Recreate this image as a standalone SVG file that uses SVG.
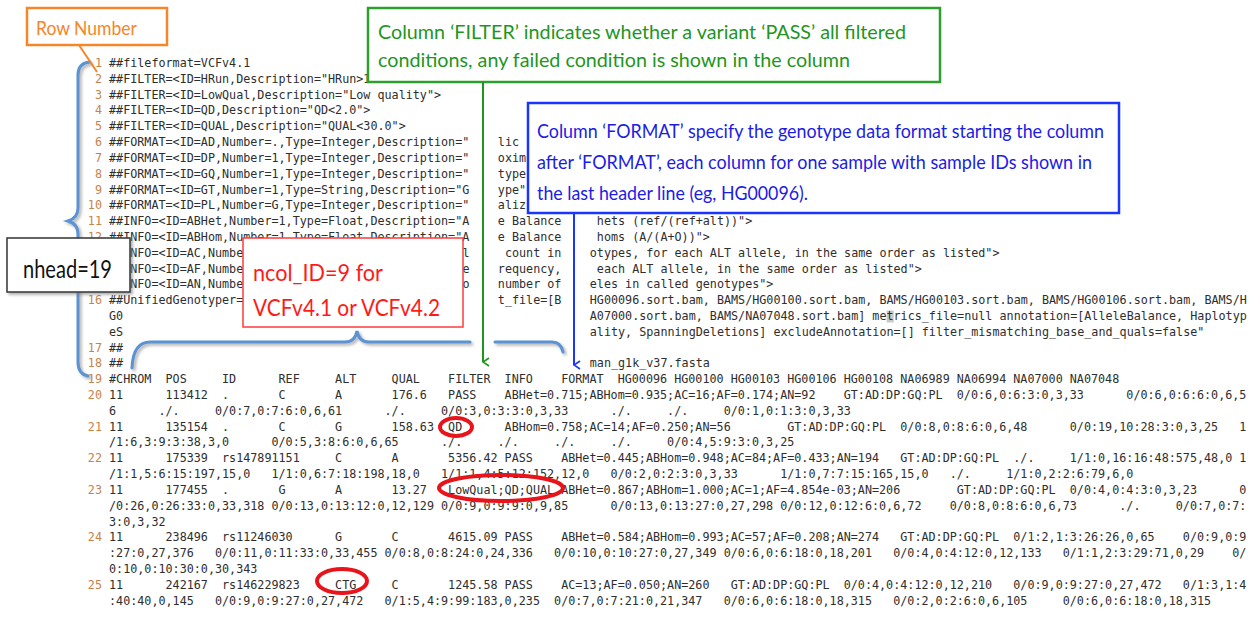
<svg xmlns="http://www.w3.org/2000/svg" width="1256" height="618" viewBox="0 0 1256 618">
<style>
.c{font-family:"DejaVu Sans Mono","Liberation Mono",monospace;font-size:11.74px;fill:#2e2e2e;white-space:pre}
.n{font-family:"DejaVu Sans Mono","Liberation Mono",monospace;font-size:11.74px;fill:#c8834a;text-anchor:end}
.lbl{font-family:Lato,"Liberation Sans",sans-serif}
.brace{fill:none;stroke:#5b93d3;stroke-width:3;stroke-linecap:round}
.ring{fill:none;stroke:#e8141c;stroke-width:4}
</style>
<defs>
<filter id="sh" x="-10%" y="-10%" width="130%" height="140%"><feDropShadow dx="2" dy="2" stdDeviation="1.5" flood-color="#777" flood-opacity="0.6"/></filter>
<marker id="ag" viewBox="0 0 10 10" refX="5" refY="9" markerWidth="10" markerHeight="10" markerUnits="userSpaceOnUse" orient="auto-start-reverse"><path d="M1,3 L5,9 L9,3" fill="none" stroke="#1e961e" stroke-width="1.6"/></marker>
<marker id="ab" viewBox="0 0 10 10" refX="5" refY="9" markerWidth="10" markerHeight="10" markerUnits="userSpaceOnUse" orient="auto-start-reverse"><path d="M1,3 L5,9 L9,3" fill="none" stroke="#1a35ff" stroke-width="1.6"/></marker>
</defs>
<rect width="1256" height="618" fill="#fff"/>

<g id="code">
<g id="linenumbers">
<text class="n" x="102" y="67">1</text>
<text class="n" x="102" y="82.8">2</text>
<text class="n" x="102" y="98.6">3</text>
<text class="n" x="102" y="114.4">4</text>
<text class="n" x="102" y="130.2">5</text>
<text class="n" x="102" y="146.1">6</text>
<text class="n" x="102" y="161.9">7</text>
<text class="n" x="102" y="177.7">8</text>
<text class="n" x="102" y="193.5">9</text>
<text class="n" x="102" y="209.3">10</text>
<text class="n" x="102" y="225.1">11</text>
<text class="n" x="102" y="240.9">12</text>
<text class="n" x="102" y="304.2">16</text>
<text class="n" x="102" y="351.6">17</text>
<text class="n" x="102" y="367.4">18</text>
<text class="n" x="102" y="383.2">19</text>
<text class="n" x="102" y="399">20</text>
<text class="n" x="102" y="430.6">21</text>
<text class="n" x="102" y="462.3">22</text>
<text class="n" x="102" y="493.9">23</text>
<text class="n" x="102" y="541.3">24</text>
<text class="n" x="102" y="588.7">25</text>
</g>
<g id="header">
<text class="c" x="109" y="67">##fileformat=VCFv4.1</text>
<text class="c" x="109" y="82.8">##FILTER=&lt;ID=HRun,Description="HRun&gt;1</text>
<text class="c" x="109" y="98.6">##FILTER=&lt;ID=LowQual,Description="Low quality"&gt;</text>
<text class="c" x="109" y="114.4">##FILTER=&lt;ID=QD,Description="QD&lt;2.0"&gt;</text>
<text class="c" x="109" y="130.2">##FILTER=&lt;ID=QUAL,Description="QUAL&lt;30.0"&gt;</text>
<text class="c" x="109" y="146.1">##FORMAT=&lt;ID=AD,Number=.,Type=Integer,Description="</text>
<text class="c" x="497.85" y="146.1">lic</text>
<text class="c" x="109" y="161.9">##FORMAT=&lt;ID=DP,Number=1,Type=Integer,Description="</text>
<text class="c" x="497.85" y="161.9">oxim</text>
<text class="c" x="109" y="177.7">##FORMAT=&lt;ID=GQ,Number=1,Type=Integer,Description="</text>
<text class="c" x="497.85" y="177.7">type</text>
<text class="c" x="109" y="193.5">##FORMAT=&lt;ID=GT,Number=1,Type=String,Description="G</text>
<text class="c" x="497.85" y="193.5">ype"</text>
<text class="c" x="109" y="209.3">##FORMAT=&lt;ID=PL,Number=G,Type=Integer,Description="</text>
<text class="c" x="497.85" y="209.3">aliz</text>
<text class="c" x="109" y="225.1">##INFO=&lt;ID=ABHet,Number=1,Type=Float,Description="A</text>
<text class="c" x="497.85" y="225.1">e Balance</text>
<text class="c" x="596.83" y="225.1">hets (ref/(ref+alt))"&gt;</text>
<text class="c" x="109" y="240.9">##INFO=&lt;ID=ABHom,Number=1,Type=Float,Description="A</text>
<text class="c" x="497.85" y="240.9">e Balance</text>
<text class="c" x="596.83" y="240.9">homs (A/(A+O))"&gt;</text>
<text class="c" x="130.2" y="256.7">NFO=&lt;ID=AC,Numbe</text>
<text class="c" x="462.5" y="256.7">l</text>
<text class="c" x="504.92" y="256.7">count in</text>
<text class="c" x="589.76" y="256.7">otypes, for each ALT allele, in the same order as listed"&gt;</text>
<text class="c" x="130.2" y="272.5">NFO=&lt;ID=AF,Numbe</text>
<text class="c" x="462.5" y="272.5">e</text>
<text class="c" x="497.85" y="272.5">requency,</text>
<text class="c" x="596.83" y="272.5">each ALT allele, in the same order as listed"&gt;</text>
<text class="c" x="130.2" y="288.3">NFO=&lt;ID=AN,Numbe</text>
<text class="c" x="462.5" y="288.3">o</text>
<text class="c" x="497.85" y="288.3">number of</text>
<text class="c" x="589.76" y="288.3">eles in called genotypes"&gt;</text>
<text class="c" x="109" y="304.2">##UnifiedGenotyper=</text>
<text class="c" x="497.85" y="304.2">t_file=[B</text>
<text class="c" x="589.76" y="304.2">HG00096.sort.bam, BAMS/HG00100.sort.bam, BAMS/HG00103.sort.bam, BAMS/HG00106.sort.bam, BAMS/H</text>
<text class="c" x="109" y="320">G0</text>
<rect x="886.7" y="310.5" width="7" height="12" fill="#c8c8c8"/>
<text class="c" x="589.76" y="320">A07000.sort.bam, BAMS/NA07048.sort.bam] metrics_file=null annotation=[AlleleBalance, Haplotyp</text>
<text class="c" x="109" y="335.8">eS</text>
<text class="c" x="589.76" y="335.8">ality, SpanningDeletions] excludeAnnotation=[] filter_mismatching_base_and_quals=false"</text>
<text class="c" x="109" y="351.6">##</text>
<text class="c" x="109" y="367.4">##</text>
<text class="c" x="589.76" y="367.4">man_g1k_v37.fasta</text>
</g>
<g id="records">
<text class="c" xml:space="preserve" x="109" y="383.2">#CHROM  POS     ID      REF     ALT     QUAL    FILTER  INFO    FORMAT  HG00096 HG00100 HG00103 HG00106 HG00108 NA06989 NA06994 NA07000 NA07048</text>
<text class="c" xml:space="preserve" x="109" y="399">11      113412  .       C       A       176.6   PASS    ABHet=0.715;ABHom=0.935;AC=16;AF=0.174;AN=92    GT:AD:DP:GQ:PL  0/0:6,0:6:3:0,3,33      0/0:6,0:6:6:0,6,5</text>
<text class="c" xml:space="preserve" x="109" y="414.8">6      ./.     0/0:7,0:7:6:0,6,61      ./.     0/0:3,0:3:3:0,3,33      ./.     ./.     0/0:1,0:1:3:0,3,33</text>
<text class="c" xml:space="preserve" x="109" y="430.6">11      135154  .       C       G       158.63  QD      ABHom=0.758;AC=14;AF=0.250;AN=56        GT:AD:DP:GQ:PL  0/0:8,0:8:6:0,6,48      0/0:19,10:28:3:0,3,25   1</text>
<text class="c" xml:space="preserve" x="109" y="446.4">/1:6,3:9:3:38,3,0      0/0:5,3:8:6:0,6,65      ./.     ./.     ./.     ./.     0/0:4,5:9:3:0,3,25</text>
<text class="c" xml:space="preserve" x="109" y="462.3">11      175339  rs147891151     C       A       5356.42 PASS    ABHet=0.445;ABHom=0.948;AC=84;AF=0.433;AN=194   GT:AD:DP:GQ:PL  ./.     1/1:0,16:16:48:575,48,0 1</text>
<text class="c" xml:space="preserve" x="109" y="478.1">/1:1,5:6:15:197,15,0   1/1:0,6:7:18:198,18,0   1/1:1,4:5:12:152,12,0   0/0:2,0:2:3:0,3,33      1/1:0,7:7:15:165,15,0   ./.     1/1:0,2:2:6:79,6,0</text>
<text class="c" xml:space="preserve" x="109" y="493.9">11      177455  .       G       A       13.27   LowQual;QD;QUAL ABHet=0.867;ABHom=1.000;AC=1;AF=4.854e-03;AN=206        GT:AD:DP:GQ:PL  0/0:4,0:4:3:0,3,23      0</text>
<text class="c" xml:space="preserve" x="109" y="509.7">/0:26,0:26:33:0,33,318 0/0:13,0:13:12:0,12,129 0/0:9,0:9:9:0,9,85      0/0:13,0:13:27:0,27,298 0/0:12,0:12:6:0,6,72    0/0:8,0:8:6:0,6,73      ./.     0/0:7,0:7:</text>
<text class="c" xml:space="preserve" x="109" y="525.5">3:0,3,32</text>
<text class="c" xml:space="preserve" x="109" y="541.3">11      238496  rs11246030      G       C       4615.09 PASS    ABHet=0.584;ABHom=0.993;AC=57;AF=0.208;AN=274   GT:AD:DP:GQ:PL  0/1:2,1:3:26:26,0,65    0/0:9,0:9</text>
<text class="c" xml:space="preserve" x="109" y="557.1">:27:0,27,376   0/0:11,0:11:33:0,33,455 0/0:8,0:8:24:0,24,336   0/0:10,0:10:27:0,27,349 0/0:6,0:6:18:0,18,201   0/0:4,0:4:12:0,12,133   0/1:1,2:3:29:71,0,29    0/</text>
<text class="c" xml:space="preserve" x="109" y="572.9">0:10,0:10:30:0,30,343</text>
<text class="c" xml:space="preserve" x="109" y="588.7">11      242167  rs146229823     CTG     C       1245.58 PASS    AC=13;AF=0.050;AN=260   GT:AD:DP:GQ:PL  0/0:4,0:4:12:0,12,210   0/0:9,0:9:27:0,27,472   0/1:3,1:4</text>
<text class="c" xml:space="preserve" x="109" y="604.5">:40:40,0,145   0/0:9,0:9:27:0,27,472   0/1:5,4:9:99:183,0,235  0/0:7,0:7:21:0,21,347   0/0:6,0:6:18:0,18,315   0/0:2,0:2:6:0,6,105     0/0:6,0:6:18:0,18,315</text>
</g>
</g>

<g id="strips" fill="#fff">
<rect x="471" y="84" width="23" height="284"/>
<rect x="562" y="215" width="26" height="153"/>
</g>

<g id="braces" filter="url(#sh)">
<path class="brace" d="M90,62 Q78,63 78,75 L78,208 Q78,218 68,221 Q78,224 78,234 L78,362 Q78,374 88,376"/>
<path class="brace" d="M132,368 Q133,342 150,342 L345,342 Q355,342 357,331 Q359,342 369,342 L470,342 M495,342 L552,342 Q561,342 563,352"/>
</g>

<g id="row-number">
<rect x="27" y="8" width="140" height="37" fill="#fff" stroke="#f5862a" stroke-width="2.5"/>
<text class="lbl" x="36" y="35" font-size="20" fill="#f5862a" textLength="101" lengthAdjust="spacingAndGlyphs">Row Number</text>
</g>

<g id="filter-note">
<rect x="368" y="8" width="572" height="74" fill="#fff" stroke="#2ca02c" stroke-width="2.5"/>
<text class="lbl" x="378" y="39" font-size="20" fill="#1e961e" textLength="528" lengthAdjust="spacingAndGlyphs">Column ‘FILTER’ indicates whether a variant ‘PASS’ all filtered</text>
<text class="lbl" x="378" y="67" font-size="20" fill="#1e961e" textLength="472" lengthAdjust="spacingAndGlyphs">conditions, any failed condition is shown in the column</text>
</g>

<g id="format-note">
<rect x="528" y="103" width="591" height="110" fill="#fff" stroke="#1a35ff" stroke-width="2.5"/>
<text class="lbl" x="537" y="138" font-size="20" fill="#1c1ce6" textLength="567" lengthAdjust="spacingAndGlyphs">Column ‘FORMAT’ specify the genotype data format starting the column</text>
<text class="lbl" x="537" y="169" font-size="20" fill="#1c1ce6" textLength="555" lengthAdjust="spacingAndGlyphs">after ‘FORMAT’, each column for one sample with sample IDs shown in</text>
<text class="lbl" x="537" y="200" font-size="20" fill="#1c1ce6" textLength="271" lengthAdjust="spacingAndGlyphs">the last header line (eg, HG00096).</text>
</g>

<g id="nhead">
<rect x="7" y="238" width="123" height="54" fill="#fff" stroke="#333" stroke-width="1.5" filter="url(#sh)"/>
<text class="lbl" x="23" y="278" font-size="25" fill="#111" textLength="89" lengthAdjust="spacingAndGlyphs">nhead=19</text>
</g>

<g id="ncol">
<rect x="243" y="238" width="220" height="89" fill="#fff" stroke="#ff3b3b" stroke-width="1.5"/>
<text class="lbl" x="253" y="281" font-size="24" fill="#ff1a1a" textLength="130" lengthAdjust="spacingAndGlyphs">ncol_ID=9 for</text>
<text class="lbl" x="253" y="316" font-size="24" fill="#ff1a1a" textLength="187" lengthAdjust="spacingAndGlyphs">VCFv4.1 or VCFv4.2</text>
</g>

<g id="connectors">
<line x1="79" y1="45" x2="97" y2="72" stroke="#f5862a" stroke-width="2"/>
<line x1="483" y1="82" x2="483" y2="362" stroke="#1e961e" stroke-width="2" marker-end="url(#ag)"/>
<line x1="574" y1="213" x2="574" y2="365" stroke="#1a35ff" stroke-width="2" marker-end="url(#ab)"/>
</g>

<g id="highlights">
<ellipse class="ring" cx="456" cy="427" rx="16" ry="9"/>
<ellipse class="ring" cx="501" cy="488" rx="62" ry="13"/>
<ellipse class="ring" cx="342" cy="581" rx="25" ry="12"/>
</g>
</svg>
